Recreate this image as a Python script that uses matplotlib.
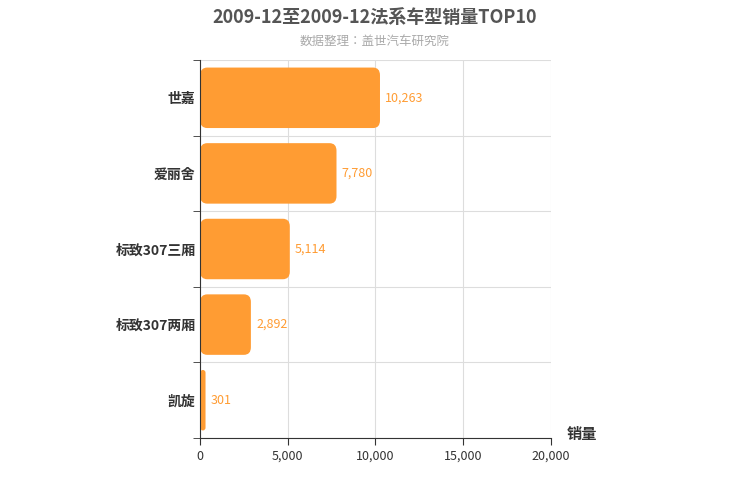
import matplotlib.pyplot as plt
from matplotlib import font_manager
from matplotlib.patches import FancyBboxPatch

# pick whatever CJK family name the font manager actually registered
cjk = [f.name for f in font_manager.fontManager.ttflist if 'CJK' in f.name]
cjk_name = 'Noto Sans CJK SC' if 'Noto Sans CJK SC' in cjk else (cjk[0] if cjk else 'DejaVu Sans')
plt.rcParams['font.family'] = [cjk_name, 'DejaVu Sans']

models = ['世嘉', '爱丽舍', '标致307三厢', '标致307两厢', '凯旋']
sales = [10263, 7780, 5114, 2892, 301]
xticks = [0, 5000, 10000, 15000, 20000]

fig = plt.figure(figsize=(7.5, 5), dpi=100)
ax = fig.add_axes([0.267, 0.124, 0.467, 0.756])
ax.set_xlim(0, 20000)
ax.set_ylim(len(models) - 0.5, -0.5)
color = '#ff9c33'
for i, v in enumerate(sales):
    h = 0.8
    r = min(400, v / 2)
    ax.add_patch(FancyBboxPatch((0, i - h / 2), v, h,
                                boxstyle=f'round,pad=0,rounding_size={r}',
                                mutation_aspect=0.1 / 400, fc=color, ec='none'))
    ax.text(v + 300, i, f'{v:,}', va='center', ha='left', color=color, fontsize=9)
ax.set_yticks(range(len(models)))
ax.set_yticklabels(models, fontsize=10, fontweight='bold', color='#333333')
ax.set_xticks(xticks)
ax.set_xticklabels([f'{t:,}' for t in xticks], fontsize=9, color='#333333')
ax.set_yticks([i + 0.5 for i in range(-1, len(models))], minor=True)
ax.grid(True, axis='x', color='#dddddd')
ax.grid(True, axis='y', which='minor', color='#dddddd')
ax.tick_params(axis='y', which='major', length=0)
ax.tick_params(axis='y', which='minor', length=5, color='#333333')
ax.tick_params(axis='x', length=5, color='#333333')
for s in ['top', 'right']:
    ax.spines[s].set_visible(False)
ax.spines['left'].set_color('#333333')
ax.spines['bottom'].set_color('#333333')
ax.set_axisbelow(True)
fig.text(0.755, 0.115, '销量', fontsize=11, fontweight='bold', color='#333333', va='bottom')
fig.text(0.5, 0.965, '2009-12至2009-12法系车型销量TOP10', ha='center', va='center',
         fontsize=13, fontweight='bold', color='#555555')
fig.text(0.5, 0.918, '数据整理：盖世汽车研究院', ha='center', va='center', fontsize=9, color='#aaaaaa')
fig.savefig('out.png')
